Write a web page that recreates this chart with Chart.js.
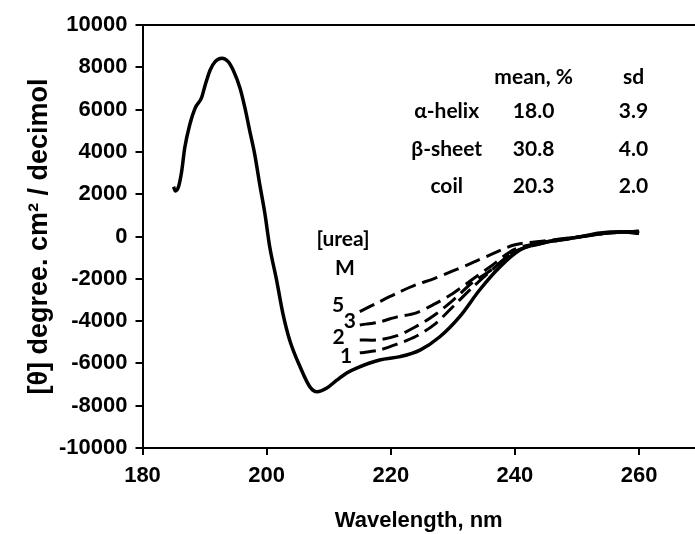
<!DOCTYPE html>
<html>
<head>
<meta charset="utf-8">
<script src="https://cdn.jsdelivr.net/npm/chart.js@4.4.1/dist/chart.umd.min.js"></script>
<style>
html, body { margin: 0; padding: 0; background: #fff; }
</style>
</head>
<body>
<canvas id="cd_chart" width="695" height="534"></canvas>
<script>
// native spectrum, solid line
var wavelength0 = [185, 185.3, 185.8, 186.3, 186.8, 187.6, 188.5, 189.5, 190.1, 190.9, 191.7, 192.8, 193.8, 194.6, 195.7, 196.5, 197.3, 198.1, 198.9, 199.7, 200.5, 201.6, 202.6, 203.7, 205.4, 207.0, 208.1, 209.7, 211.3, 212.9, 214.5, 218.2, 221.5, 224.7, 227.9, 231.1, 234.3, 237.6, 240.8, 244.0, 247.2, 250.5, 253.7, 256.9, 260];
var theta0 = [2350, 2150, 2350, 3060, 4180, 5270, 6080, 6550, 7160, 7870, 8270, 8430, 8270, 7870, 7020, 6080, 4960, 3850, 2440, 1110, -500, -2060, -3620, -4890, -6170, -7120, -7340, -7160, -6790, -6450, -6220, -5840, -5680, -5370, -4740, -3790, -2530, -1430, -640, -310, -170, -10, 170, 230, 150];

// spectra in urea, dashed lines
var wavelengthUrea = [215, 218, 221, 224, 227, 230, 233, 236, 240, 245, 250, 255, 260];
var theta1M = [-5500, -5380, -5090, -4730, -4170, -3320, -2450, -1650, -720, -290, -50, 160, 250];
var theta2M = [-4890, -4890, -4690, -4270, -3720, -3020, -2210, -1620, -700, -280, -40, 160, 250];
var theta3M = [-4180, -4050, -3800, -3620, -3200, -2690, -2060, -1430, -600, -250, -30, 160, 250];
var theta5M = [-3550, -3110, -2680, -2290, -1990, -1630, -1260, -870, -390, -200, -20, 160, 260];

var xTicks = [180, 200, 220, 240, 260];
var yTicks = [-10000, -8000, -6000, -4000, -2000, 0, 2000, 4000, 6000, 8000, 10000];

var structureNames = ['α-helix', 'β-sheet', 'coil'];
var structureMean = ['18.0', '30.8', '20.3'];
var structureSd = ['3.9', '4.0', '2.0'];
var ureaLabels = ['1', '2', '3', '5'];

function toPoints(xs, ys){
    return xs.map(function(x, i){ return {x: x, y: ys[i]}; });
}

var tickFont = {family: 'Liberation Sans, Arial, sans-serif', size: 22, weight: 'bold'};
var noteFont = 'bold 21px Lato, sans-serif';

// table and urea labels, placed in data coordinates
var textPlugin = {
    id: 'cdText',
    afterDraw: function(chart){
        var ctx = chart.ctx;
        var xs = chart.scales.x, ys = chart.scales.y;
        var area = chart.chartArea;

        // top frame line
        ctx.save();
        ctx.strokeStyle = '#000';
        ctx.lineWidth = 2;
        ctx.beginPath();
        ctx.moveTo(area.left, area.top);
        ctx.lineTo(area.right, area.top);
        ctx.stroke();

        ctx.fillStyle = '#000';
        ctx.font = noteFont;
        ctx.textAlign = 'center';
        ctx.textBaseline = 'middle';

        var colName = 229, colMean = 243, colSd = 259.1;
        var rowHead = 7540, rows = [5930, 4140, 2390];
        ctx.fillText('mean, %', xs.getPixelForValue(colMean), ys.getPixelForValue(rowHead));
        ctx.fillText('sd', xs.getPixelForValue(colSd), ys.getPixelForValue(rowHead));
        for (var i = 0; i < structureNames.length; i++){
            var py = ys.getPixelForValue(rows[i]);
            ctx.fillText(structureNames[i], xs.getPixelForValue(colName), py);
            ctx.fillText(structureMean[i], xs.getPixelForValue(colMean), py);
            ctx.fillText(structureSd[i], xs.getPixelForValue(colSd), py);
        }

        ctx.fillText('[urea]', xs.getPixelForValue(212.3), ys.getPixelForValue(-120));
        ctx.fillText('M', xs.getPixelForValue(212.6), ys.getPixelForValue(-1490));
        var labelX = [212.8, 211.6, 213.4, 211.5];
        var labelY = [-5650, -4750, -4000, -3240];
        for (var j = 0; j < ureaLabels.length; j++){
            ctx.fillText(ureaLabels[j], xs.getPixelForValue(labelX[j]), ys.getPixelForValue(labelY[j]));
        }
        ctx.restore();
    }
};

function dashed(data){
    return {
        data: data,
        borderColor: '#000',
        borderWidth: 3,
        borderDash: [16, 7],
        pointRadius: 0,
        fill: false,
        tension: 0.3
    };
}

function plainLabel(value){
    return String(value);
}

var ctx = document.getElementById('cd_chart').getContext('2d');
var chart = new Chart(ctx, {
    type: 'line',
    data: {
        datasets: [
            {
                data: toPoints(wavelength0, theta0),
                borderColor: '#000',
                borderWidth: 3.5,
                pointRadius: 0,
                fill: false,
                cubicInterpolationMode: 'monotone'
            },
            dashed(toPoints(wavelengthUrea, theta1M)),
            dashed(toPoints(wavelengthUrea, theta2M)),
            dashed(toPoints(wavelengthUrea, theta3M)),
            dashed(toPoints(wavelengthUrea, theta5M))
        ]
    },
    options: {
        responsive: false,
        animation: false,
        devicePixelRatio: 1,
        layout: {padding: {left: 0, top: 25, right: 0, bottom: 0}},
        plugins: {legend: {display: false}, tooltip: {enabled: false}},
        scales: {
            x: {
                type: 'linear',
                min: 180,
                max: 269,
                afterBuildTicks: function(axis){ axis.ticks = xTicks.map(function(v){ return {value: v}; }); },
                afterFit: function(axis){ axis.height = 86; },
                ticks: {color: '#000', font: tickFont, padding: 8, maxRotation: 0, callback: plainLabel},
                grid: {drawOnChartArea: false, drawTicks: true, tickLength: 7, color: '#000', lineWidth: 2},
                border: {color: '#000', width: 2},
                title: {
                    display: true,
                    text: 'Wavelength, nm',
                    color: '#000',
                    font: {family: 'Liberation Sans, Arial, sans-serif', size: 22, weight: 'bold'},
                    padding: {top: 0, bottom: 0}
                }
            },
            y: {
                min: -10000,
                max: 10000,
                afterBuildTicks: function(axis){ axis.ticks = yTicks.map(function(v){ return {value: v}; }); },
                afterFit: function(axis){ axis.width = 142.5; },
                ticks: {color: '#000', font: tickFont, padding: 8, callback: plainLabel},
                grid: {drawOnChartArea: false, drawTicks: true, tickLength: 7, color: '#000', lineWidth: 2},
                border: {color: '#000', width: 2},
                title: {
                    display: true,
                    text: '[θ] degree. cm² / decimol',
                    color: '#000',
                    font: {family: 'Liberation Sans, Arial, sans-serif', size: 27, weight: 'bold'},
                    padding: {top: 23, bottom: 0}
                }
            }
        }
    },
    plugins: [textPlugin]
});
</script>
</body>
</html>
